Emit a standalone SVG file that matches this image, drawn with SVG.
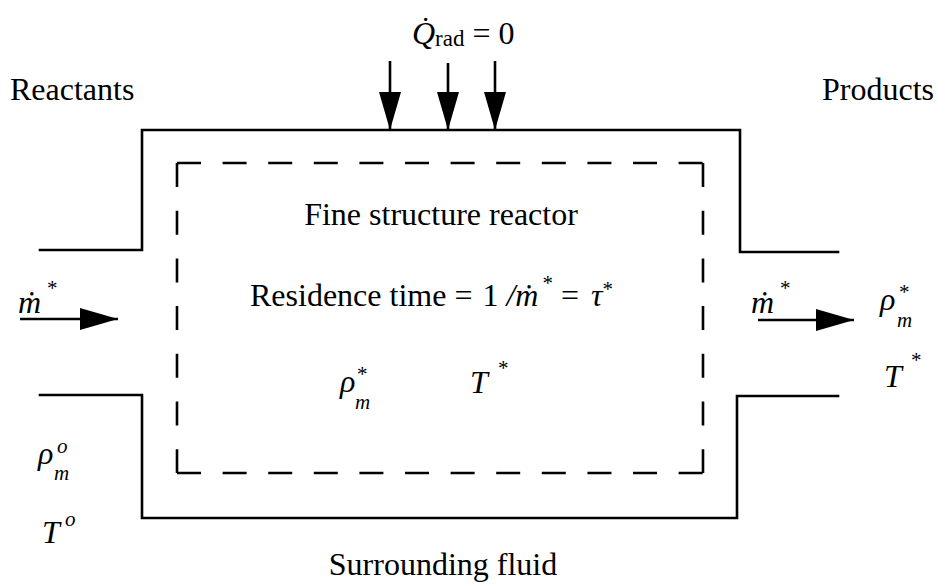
<svg xmlns="http://www.w3.org/2000/svg" width="938" height="584" viewBox="0 0 938 584">
<style>
.ln{fill:none;stroke:#000;stroke-width:2.6;stroke-linecap:square}
.dh{fill:none;stroke:#000;stroke-width:2.6;stroke-dasharray:24 21.6}
.dv{fill:none;stroke:#000;stroke-width:2.6;stroke-dasharray:24 23.7}
.ar{stroke:#000;stroke-width:2.6}
.t{font-family:"Liberation Serif","Times New Roman",serif;font-size:32px;fill:#000}
.i{font-style:italic}
.s{font-size:21px}
</style>
<defs>
<marker id="ah" viewBox="0 0 38 22" refX="38" refY="11" markerWidth="38" markerHeight="22" markerUnits="userSpaceOnUse" orient="auto">
<path d="M0,0 L38,11 L0,22 Z" fill="#000"/>
</marker>
</defs>
<rect width="938" height="584" fill="#fff"/>
<g id="vessel">
<path class="ln" d="M40,250 H142 V130 H740 V252 H838"/>
<path class="ln" d="M40,395 H142 V518 H737 V396 H838"/>
</g>
<g id="fine-structure">
<path class="dh" d="M177,163 H703"/>
<path class="dh" d="M177,473 H703"/>
<path class="dv" d="M177,163 V473"/>
<path class="dv" d="M703,163 V473"/>
</g>
<g id="connectors">
<line class="ar" x1="390" y1="61" x2="390" y2="130" marker-end="url(#ah)"/>
<line class="ar" x1="448" y1="63" x2="448" y2="130" marker-end="url(#ah)"/>
<line class="ar" x1="495" y1="61" x2="495" y2="130" marker-end="url(#ah)"/>
<line class="ar" x1="20" y1="319" x2="118" y2="319" marker-end="url(#ah)"/>
<line class="ar" x1="758" y1="320" x2="854" y2="320" marker-end="url(#ah)"/>
</g>
<g id="labels">
<text class="t" x="412" y="44"><tspan class="i">Q&#x307;</tspan><tspan font-size="23" dy="2">rad</tspan><tspan dy="-2"> = 0</tspan></text>
<text class="t" x="10" y="100">Reactants</text>
<text class="t" x="822" y="100">Products</text>
<text class="t" x="441" y="225" text-anchor="middle">Fine structure reactor</text>
<text class="t" x="250" y="306">Residence time =<tspan dx="10">1 </tspan><tspan class="i">/&#x1E41;</tspan><tspan class="s" dx="4" dy="-16">*</tspan><tspan dx="8" dy="16">=</tspan><tspan class="i" dx="12">τ</tspan><tspan class="s" dy="-10">*</tspan></text>
<text class="t i" x="340" y="392">ρ</text>
<text class="t s" x="357" y="381">*</text>
<text class="t s i" x="355" y="409">m</text>
<text class="t i" x="470" y="393">T</text>
<text class="t s" x="498" y="375">*</text>
<text class="t i" x="18" y="313">&#x1E41;</text>
<text class="t s" x="47" y="295">*</text>
<text class="t i" x="751" y="313">&#x1E41;</text>
<text class="t s" x="780" y="295">*</text>
<text class="t i" x="880" y="310">ρ</text>
<text class="t s" x="899" y="299">*</text>
<text class="t s i" x="897" y="327">m</text>
<text class="t i" x="884" y="387">T</text>
<text class="t s" x="911" y="367">*</text>
<text class="t i" x="38" y="464">ρ</text>
<text class="t s i" x="57" y="453">o</text>
<text class="t s i" x="54" y="480">m</text>
<text class="t i" x="42" y="543">T</text>
<text class="t s i" x="65" y="526">o</text>
<text class="t" x="443" y="575" text-anchor="middle">Surrounding fluid</text>
</g>
</svg>
